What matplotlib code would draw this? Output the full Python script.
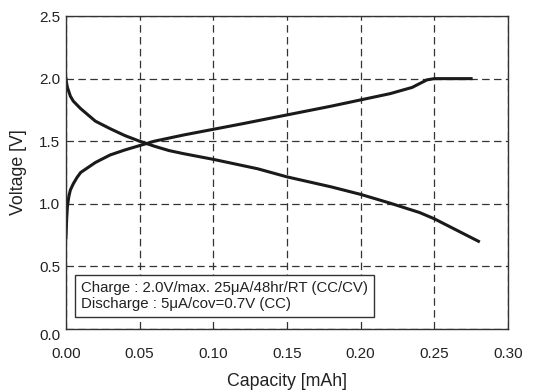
import numpy as np
import matplotlib.pyplot as plt
import matplotlib.transforms as mtransforms

plt.rcParams['font.family'] = ['Liberation Sans', 'DejaVu Sans']

charge_cap = [0.0, 0.0005, 0.001, 0.002, 0.003, 0.005, 0.0075, 0.01, 0.015, 0.02, 0.03, 0.04,
              0.05, 0.06, 0.08, 0.10, 0.12, 0.15, 0.18, 0.20, 0.22, 0.235, 0.245, 0.25, 0.275]
charge_v = [0.73, 0.88, 0.98, 1.06, 1.11, 1.16, 1.21, 1.25, 1.29, 1.33, 1.39, 1.43,
            1.465, 1.50, 1.55, 1.595, 1.64, 1.71, 1.78, 1.83, 1.88, 1.93, 1.99, 2.0, 2.0]

discharge_cap = [0.0, 0.0005, 0.001, 0.003, 0.005, 0.01, 0.02, 0.03, 0.04, 0.05, 0.06, 0.07,
                 0.08, 0.10, 0.12, 0.13, 0.15, 0.18, 0.20, 0.22, 0.24, 0.25, 0.26, 0.28]
discharge_v = [2.0, 1.96, 1.93, 1.86, 1.82, 1.76, 1.66, 1.60, 1.545, 1.50, 1.46, 1.425,
               1.40, 1.355, 1.305, 1.28, 1.215, 1.135, 1.075, 1.005, 0.93, 0.88, 0.82, 0.70]

note = "Charge : 2.0V/max. 25\u03bcA/48hr/RT (CC/CV)\nDischarge : 5\u03bcA/cov=0.7V (CC)"

fig = plt.figure(figsize=(5.45, 3.92), dpi=100)
ax = fig.add_axes([0.121, 0.161, 0.811, 0.798])

ax.plot(charge_cap, charge_v, color='#1a1a1a', lw=2.2)
ax.plot(discharge_cap, discharge_v, color='#1a1a1a', lw=2.2)

ax.set_xlim(0, 0.30)
ax.set_ylim(0, 2.5)
ax.set_xticks(np.arange(0, 0.31, 0.05))
ax.set_yticks(np.arange(0, 2.51, 0.5))
ax.set_xticklabels(['%.2f' % t for t in np.arange(0, 0.31, 0.05)])
ax.set_yticklabels(['%.1f' % t for t in np.arange(0, 2.51, 0.5)])
ax.tick_params(length=0, labelsize=11, colors='#222222')
ax.tick_params(axis='x', pad=13)
ax.tick_params(axis='y', pad=4)
# the 0.0 label sits a little below the axis line
lbl = ax.get_yticklabels()[0]
lbl.set_transform(lbl.get_transform() + mtransforms.ScaledTranslation(0, -6 / 100, fig.dpi_scale_trans))

ax.grid(True, linestyle=(0, (6, 3.5)), color='#333333', lw=0.9)
for s in ax.spines.values():
    s.set_color('#333333')
    s.set_linewidth(1.0)

ax.set_xlabel('Capacity [mAh]', fontsize=12.8, color='#222222', labelpad=9)
ax.set_ylabel('Voltage [V]', fontsize=12.8, color='#222222', labelpad=9)

ax.text(0.0102, 0.26, note, fontsize=10.8, color='#222222', va='center', ha='left',
        linespacing=1.2,
        bbox=dict(boxstyle='square,pad=0.4', facecolor='white', edgecolor='#333333', lw=1))

fig.savefig('out.png', dpi=100)
